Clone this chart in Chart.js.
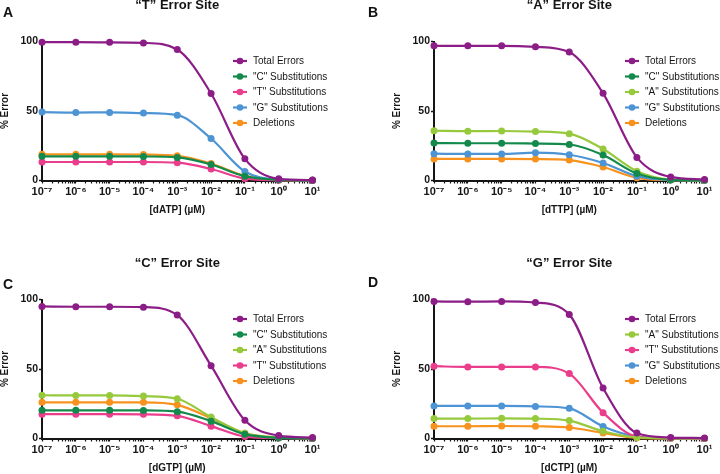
<!DOCTYPE html>
<html>
<head>
<meta charset="utf-8">
<script src="https://cdn.jsdelivr.net/npm/chart.js@4.4.1/dist/chart.umd.min.js"></script>
<style>
    html, body { margin: 0; padding: 0; background: #fff; }
    body { width: 720px; height: 474px; position: relative; overflow: hidden; }
    .painel { position: absolute; width: 360px; height: 237px; }
    .letra { position: absolute; font: bold 14px "Liberation Sans", Arial, sans-serif; line-height: 14px; color: #111; }
</style>
</head>
<body>
<div class="painel" style="left:-32px; top:0px"><canvas id="graficoA" width="360" height="237"></canvas></div>
<div class="painel" style="left:360px; top:0px"><canvas id="graficoB" width="360" height="237"></canvas></div>
<div class="painel" style="left:-32px; top:257.5px"><canvas id="graficoC" width="360" height="237"></canvas></div>
<div class="painel" style="left:360px; top:257.5px"><canvas id="graficoD" width="360" height="237"></canvas></div>
<div class="letra" style="left:3px; top:5px">A</div>
<div class="letra" style="left:368px; top:5px">B</div>
<div class="letra" style="left:3px; top:277px">C</div>
<div class="letra" style="left:368px; top:275px">D</div>
<script>
// concentracoes (uM)
var doses = [1e-7, 1e-6, 1e-5, 1e-4, 1e-3, 1e-2, 1e-1, 1, 10];
var decadasX = [1e-7, 1e-6, 1e-5, 1e-4, 1e-3, 1e-2, 1e-1, 1, 10];
var rotulosX = ['10\u207B\u2077', '10\u207B\u2076', '10\u207B\u2075', '10\u207B\u2074', '10\u207B\u00B3', '10\u207B\u00B2', '10\u207B\u00B9', '10\u2070', '10\u00B9'];
var ticksY = [0, 50, 100];

// "T" error site (dATP)
var totalA = [99.5, 99.5, 99.4, 99.0, 94.2, 62.6, 15.6, 1.2, 0.3];
var subCA = [17.4, 17.4, 17.4, 17.3, 16.6, 11.5, 3.1, 0.5, 0.1];
var subTA = [13.3, 13.3, 13.3, 13.3, 12.8, 8.3, 1.4, 0.2, 0];
var subGA = [49.2, 48.9, 49.0, 48.5, 47.0, 30.2, 6.5, 0.7, 0.1];
var delA = [18.8, 18.8, 18.8, 18.7, 17.8, 12.2, 3.4, 0.5, 0.1];

// "A" error site (dTTP)
var totalB = [96.9, 96.9, 96.9, 96.2, 92.4, 62.7, 16.6, 2.6, 0.7];
var subCB = [26.9, 26.8, 26.8, 26.6, 25.9, 18.3, 5.0, 0.5, 0.1];
var subAB = [35.8, 35.5, 35.6, 35.2, 33.7, 22.6, 6.7, 0.7, 0.1];
var subGB = [19.3, 19.1, 19.1, 20.0, 18.5, 12.6, 3.1, 0.4, 0.1];
var delB = [15.5, 15.5, 15.5, 15.4, 14.7, 9.7, 1.9, 0.3, 0.1];

// "C" error site (dGTP)
var totalC = [95.0, 94.8, 94.8, 94.5, 88.8, 52.4, 13.1, 2.1, 0.7];
var subCC = [20.3, 20.3, 20.3, 20.2, 19.3, 12.5, 3.1, 0.5, 0.1];
var subAC = [31.1, 31.0, 31.0, 30.5, 28.6, 15.4, 3.8, 0.7, 0.1];
var subTC = [17.5, 17.5, 17.5, 17.4, 16.3, 8.9, 1.4, 0.3, 0];
var delC = [26.0, 26.0, 26.0, 26.0, 24.2, 14.6, 3.8, 0.7, 0.1];

// "G" error site (dCTP)
var totalD = [98.6, 98.4, 98.6, 97.8, 89.2, 36.3, 3.9, 0.7, 0.3];
var subAD = [14.3, 14.3, 14.5, 14.3, 12.9, 5.2, 0.7, 0.1, 0];
var subTD = [52.0, 51.5, 51.5, 51.5, 46.7, 18.6, 1.4, 0.2, 0];
var subGD = [23.4, 23.4, 23.4, 23.1, 21.7, 8.7, 1.4, 0.2, 0];
var delD = [8.8, 8.8, 9.0, 8.8, 7.9, 4.0, 0.5, 0.1, 0];

var corTotal = '#8c1d87';
var corC = '#138a4b';
var corA = '#97c93d';
var corT = '#ea3d8c';
var corG = '#4d94d4';
var corDel = '#f7921e';

var fonte = '"Liberation Sans", Arial, Helvetica, sans-serif';
var corTexto = '#151515';

// marcas menores do eixo log (1..9 x 10^n)
var ticksX = [];
decadasX.forEach(function (d, i) {
    if (i === decadasX.length - 1) {
        ticksX.push(d);
        return;
    }
    for (var m = 1; m <= 9; m++)
        ticksX.push(m * d);
});

var legendaInterna = {
    id: 'legendaInterna',
    afterDraw: function (chart) {
        var ctx = chart.ctx;
        var area = chart.chartArea;
        var titulo = chart.options.plugins.legendaInterna.titulo;

        ctx.save();
        ctx.font = 'bold 13px ' + fonte;
        ctx.fillStyle = corTexto;
        ctx.textAlign = 'center';
        ctx.textBaseline = 'middle';
        ctx.fillText(titulo, (area.left + area.right) / 2, area.top - 36);

        ctx.font = '10px ' + fonte;
        ctx.textAlign = 'left';
        chart.data.datasets.forEach(function (ds, i) {
            var y = area.top + 19.5 + i * 15.5;
            var x = area.left + 191;
            ctx.strokeStyle = ds.borderColor;
            ctx.lineWidth = 2.2;
            ctx.beginPath();
            ctx.moveTo(x, y);
            ctx.lineTo(x + 14, y);
            ctx.stroke();
            ctx.fillStyle = ds.borderColor;
            ctx.beginPath();
            ctx.arc(x + 7, y, 3.3, 0, Math.PI * 2);
            ctx.fill();
            ctx.fillStyle = corTexto;
            ctx.fillText(ds.label, x + 20, y + 0.5);
        });
        ctx.restore();
    }
};

function serie(rotulo, valores, cor) {
    return {
        label: rotulo,
        data: valores,
        borderColor: cor,
        backgroundColor: cor,
        pointBackgroundColor: cor,
        pointBorderWidth: 0,
        pointRadius: 3.5,
        borderWidth: 2.2,
        cubicInterpolationMode: 'monotone',
        clip: false
    };
}

function inicializarPainel(id, titulo, tituloX, series) {
    var elemento = document.getElementById(id);

    if (!elemento)
        return;

    new Chart(elemento.getContext('2d'), {
        type: 'line',
        data: {
            labels: doses,
            datasets: series
        },
        options: {
            responsive: false,
            animation: false,
            devicePixelRatio: 1,
            layout: { padding: { left: 0, right: 15.5, top: 41.5, bottom: 0 } },
            scales: {
                x: {
                    type: 'logarithmic',
                    min: 1e-7,
                    max: 10,
                    afterBuildTicks: function (escala) {
                        escala.ticks = ticksX.map(function (v) { return { value: v }; });
                    },
                    afterFit: function (escala) { escala.height = 56.5; },
                    border: { color: corTexto, width: 2 },
                    grid: {
                        drawOnChartArea: false,
                        drawTicks: true,
                        tickLength: 3,
                        tickColor: corTexto,
                        tickWidth: 1.2
                    },
                    ticks: {
                        autoSkip: false,
                        maxRotation: 0,
                        padding: 2,
                        color: corTexto,
                        font: { family: fonte, size: 11, weight: 'bold' },
                        callback: function (valor) {
                            var i = decadasX.findIndex(function (d) {
                                return Math.abs(Math.log10(d) - Math.log10(valor)) < 1e-6;
                            });
                            return i >= 0 ? rotulosX[i] : '';
                        }
                    },
                    title: {
                        display: true,
                        text: tituloX,
                        color: corTexto,
                        font: { family: fonte, size: 10, weight: 'bold' },
                        padding: { top: 0, bottom: 21 }
                    }
                },
                y: {
                    min: 0,
                    max: 100,
                    afterBuildTicks: function (escala) {
                        escala.ticks = ticksY.map(function (v) { return { value: v }; });
                    },
                    afterFit: function (escala) { escala.width = 74; },
                    border: { color: corTexto, width: 2 },
                    grid: {
                        drawOnChartArea: false,
                        tickLength: 3,
                        tickColor: corTexto,
                        tickWidth: 1.5
                    },
                    ticks: {
                        padding: 1,
                        color: corTexto,
                        font: { family: fonte, size: 10.5, weight: 'bold' }
                    },
                    title: {
                        display: true,
                        text: '% Error',
                        color: corTexto,
                        font: { family: fonte, size: 10, weight: 'bold' },
                        padding: { top: 31, bottom: 0 }
                    }
                }
            },
            plugins: {
                legend: { display: false },
                tooltip: { enabled: false },
                legendaInterna: { titulo: titulo }
            }
        },
        plugins: [legendaInterna]
    });
}

inicializarPainel('graficoA', '\u201CT\u201D Error Site', '[dATP] (\u00B5M)', [
    serie('Total Errors', totalA, corTotal),
    serie('"C" Substitutions', subCA, corC),
    serie('"T" Substitutions', subTA, corT),
    serie('"G" Substitutions', subGA, corG),
    serie('Deletions', delA, corDel)
]);

inicializarPainel('graficoB', '\u201CA\u201D Error Site', '[dTTP] (\u00B5M)', [
    serie('Total Errors', totalB, corTotal),
    serie('"C" Substitutions', subCB, corC),
    serie('"A" Substitutions', subAB, corA),
    serie('"G" Substitutions', subGB, corG),
    serie('Deletions', delB, corDel)
]);

inicializarPainel('graficoC', '\u201CC\u201D Error Site', '[dGTP] (\u00B5M)', [
    serie('Total Errors', totalC, corTotal),
    serie('"C" Substitutions', subCC, corC),
    serie('"A" Substitutions', subAC, corA),
    serie('"T" Substitutions', subTC, corT),
    serie('Deletions', delC, corDel)
]);

inicializarPainel('graficoD', '\u201CG\u201D Error Site', '[dCTP] (\u00B5M)', [
    serie('Total Errors', totalD, corTotal),
    serie('"A" Substitutions', subAD, corA),
    serie('"T" Substitutions', subTD, corT),
    serie('"G" Substitutions', subGD, corG),
    serie('Deletions', delD, corDel)
]);
</script>
</body>
</html>
